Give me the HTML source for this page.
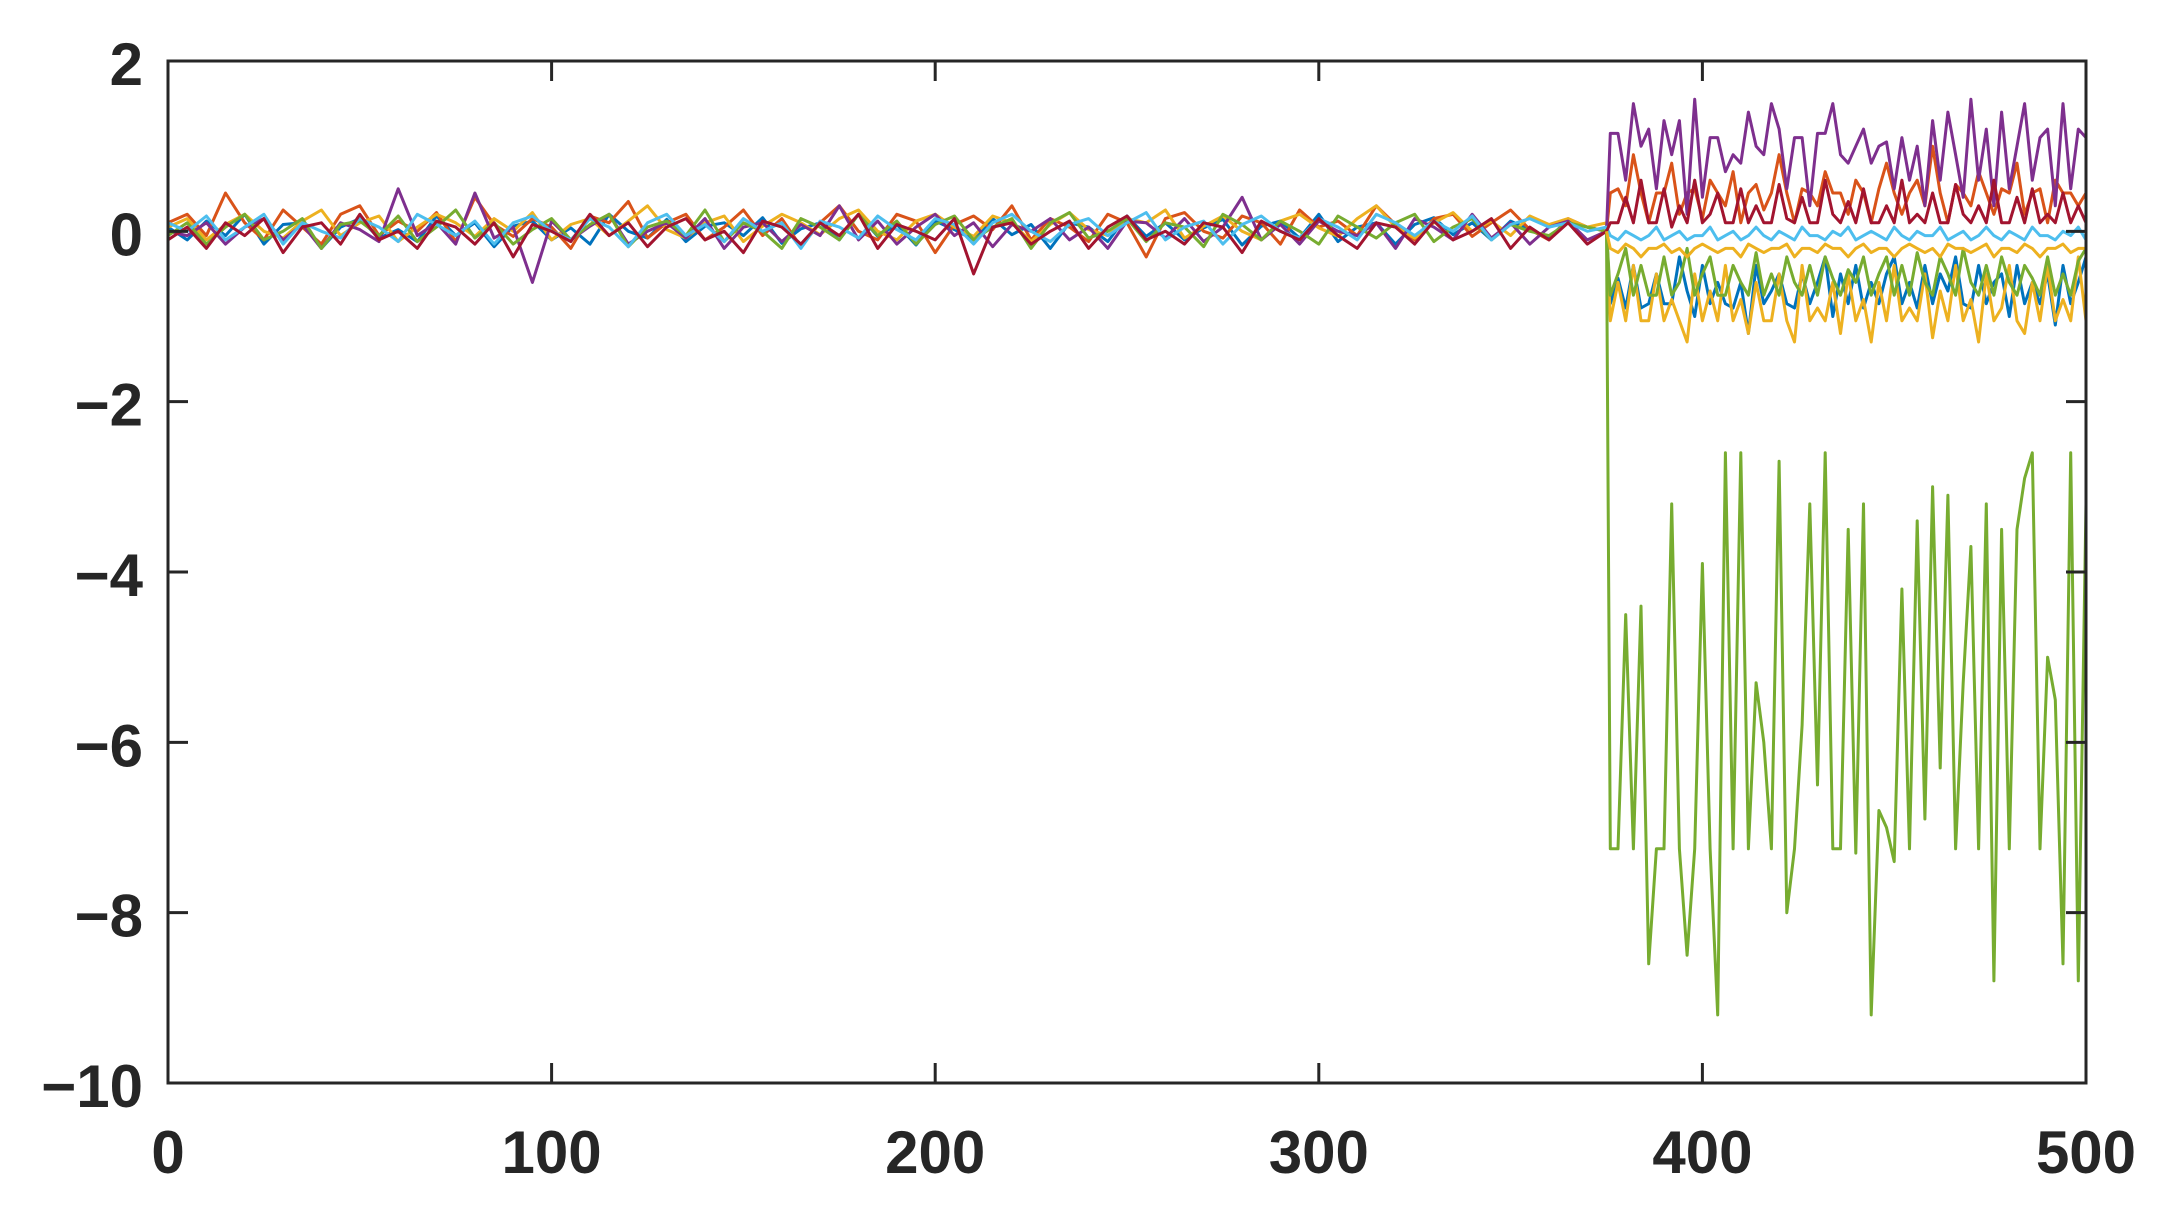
<!DOCTYPE html>
<html><head><meta charset="utf-8"><style>
html,body{margin:0;padding:0;background:#fff}
svg{display:block}
text{font-family:"Liberation Sans",Arial,sans-serif;font-weight:bold;font-size:60px;fill:#262626}
</style></head><body>
<svg id="chart" width="2170" height="1209" viewBox="0 0 2170 1209" xmlns="http://www.w3.org/2000/svg">
<g id="series"></g>
<rect x="168" y="61" width="1918" height="1022" fill="none" stroke="#262626" stroke-width="3"/>
<g id="ticks"></g>
</svg>
<script>
const xTicks=[0,100,200,300,400,500];
const yTicks=[2,0,-2,-4,-6,-8,-10];
const yTickLabels=["2","0","\u22122","\u22124","\u22126","\u22128","\u221210"];
const preBlue=[0.05,-0.1,0.12,-0.05,0.2,-0.15,0.08,0.1,-0.2,0.05,0.15,-0.08,0.02,-0.12,0.18,-0.05,0.1,-0.18,0.06,0.12,-0.1,0.04,-0.15,0.2,0.0,-0.08,0.14,-0.12,0.06,0.1,-0.05,0.16,-0.14,0.03,0.1,-0.1,0.2,-0.06,0.08,-0.16,0.12,0.02,-0.1,0.15,-0.04,0.08,-0.2,0.1,0.05,-0.12,0.18,-0.06,0.1,-0.1,0.04,0.14,-0.16,0.06,0.12,-0.08,0.2,-0.12,0.05,0.1,-0.15,0.08,0.16,-0.04,0.1,-0.1,0.12,0.02,-0.08,0.14,0.05,0.0];
const preOrange=[0.1,0.2,-0.05,0.45,0.1,-0.1,0.25,0.05,-0.15,0.2,0.3,-0.05,0.12,0.0,0.22,-0.12,0.4,0.08,-0.06,0.15,0.05,-0.2,0.18,0.1,0.35,-0.08,0.1,0.2,-0.1,0.05,0.25,-0.05,0.15,-0.18,0.1,0.3,0.0,-0.1,0.2,0.12,-0.25,0.08,0.18,0.02,0.3,-0.1,0.15,0.05,-0.12,0.2,0.1,-0.3,0.15,0.22,0.0,-0.08,0.18,0.1,-0.15,0.25,0.05,0.12,-0.05,0.3,0.08,-0.1,0.15,0.2,-0.06,0.1,0.25,0.02,-0.1,0.15,0.05,0.0];
const preYellow=[0.05,0.15,-0.1,0.08,0.2,0.0,-0.08,0.12,0.25,-0.05,0.1,0.18,-0.12,0.05,0.2,0.1,-0.06,0.15,0.0,0.22,-0.1,0.08,0.15,-0.05,0.12,0.3,0.02,-0.08,0.1,0.18,-0.12,0.06,0.2,0.1,-0.04,0.15,0.25,0.0,-0.1,0.12,0.2,0.05,-0.06,0.18,0.1,-0.12,0.08,0.22,0.02,-0.05,0.15,0.1,0.25,-0.08,0.06,0.18,0.0,-0.1,0.12,0.2,0.04,-0.06,0.15,0.3,0.05,-0.08,0.1,0.22,0.0,0.12,-0.05,0.18,0.08,0.15,0.05,0.1];
const prePurple=[0.0,-0.05,0.1,-0.15,0.05,0.15,-0.1,0.08,-0.2,0.1,0.02,-0.12,0.5,-0.05,0.1,-0.15,0.45,-0.08,0.05,-0.6,0.12,-0.1,0.06,0.2,-0.15,0.0,0.1,-0.08,0.15,-0.2,0.05,0.1,-0.12,0.08,-0.05,0.3,-0.1,0.12,-0.15,0.05,0.2,-0.05,0.1,-0.18,0.08,0.0,0.15,-0.1,0.05,-0.2,0.12,0.1,-0.08,0.15,-0.12,0.05,0.4,-0.1,0.08,-0.15,0.12,0.0,-0.05,0.1,-0.2,0.15,0.05,-0.1,0.2,-0.08,0.1,-0.15,0.05,0.12,-0.1,0.0];
const preGreen=[-0.05,0.1,-0.15,0.05,0.2,-0.1,0.0,0.15,-0.2,0.08,0.12,-0.05,0.18,-0.12,0.05,0.25,-0.08,0.1,-0.15,0.02,0.15,-0.1,0.08,0.2,-0.18,0.05,0.12,-0.05,0.25,-0.12,0.1,0.0,-0.2,0.15,0.05,-0.1,0.2,-0.05,0.12,-0.15,0.08,0.18,-0.1,0.05,0.15,-0.2,0.1,0.22,-0.08,0.0,0.15,-0.12,0.1,0.05,-0.18,0.2,0.08,-0.1,0.12,0.0,-0.15,0.18,0.05,-0.08,0.1,0.2,-0.12,0.05,0.15,-0.1,0.08,0.0,-0.05,0.1,0.05,0.0];
const preCyan=[0.1,0.0,0.18,-0.1,0.05,0.2,-0.15,0.1,0.0,-0.08,0.15,0.05,-0.12,0.2,0.08,-0.05,0.12,-0.15,0.1,0.18,0.0,-0.1,0.15,0.05,-0.18,0.1,0.2,-0.05,0.08,-0.12,0.15,0.0,0.1,-0.2,0.12,0.05,-0.08,0.18,0.02,-0.1,0.15,0.08,-0.15,0.1,0.2,0.0,-0.12,0.08,0.15,-0.05,0.1,0.22,-0.1,0.05,0.12,-0.15,0.08,0.18,0.0,-0.08,0.15,0.05,-0.1,0.2,0.1,-0.05,0.12,0.0,0.18,-0.1,0.08,0.15,0.05,0.1,0.0,0.05];
const preRed=[-0.1,0.05,-0.2,0.1,-0.05,0.15,-0.25,0.05,0.1,-0.15,0.2,-0.1,0.0,-0.2,0.12,0.05,-0.15,0.1,-0.3,0.08,0.0,-0.12,0.2,-0.05,0.1,-0.18,0.05,0.15,-0.1,0.0,-0.25,0.12,0.05,-0.15,0.1,-0.05,0.2,-0.2,0.08,0.0,-0.1,0.15,-0.5,0.05,0.1,-0.15,0.0,0.12,-0.2,0.05,0.18,-0.1,0.0,-0.15,0.1,0.05,-0.25,0.12,0.0,-0.1,0.15,-0.05,-0.2,0.1,0.05,-0.15,0.12,-0.1,0.0,0.15,-0.2,0.05,-0.1,0.1,-0.15,0.0];
const postBlue=[-0.85,-0.55,-0.9,-0.4,-0.9,-0.85,-0.5,-0.85,-0.85,-0.3,-0.7,-1.0,-0.4,-0.85,-0.6,-0.85,-0.9,-0.6,-1.2,-0.4,-0.85,-0.7,-0.5,-0.85,-0.9,-0.5,-0.85,-0.6,-0.3,-1.0,-0.5,-0.85,-0.4,-0.9,-0.6,-0.85,-0.5,-0.3,-0.85,-0.6,-0.9,-0.4,-0.85,-0.5,-0.7,-0.3,-0.85,-0.9,-0.4,-0.85,-0.6,-0.5,-1.0,-0.4,-0.85,-0.6,-0.85,-0.5,-1.1,-0.4,-0.85,-0.6,-0.3];
const postOrange=[0.45,0.5,0.3,0.9,0.45,0.1,0.45,0.45,0.8,0.2,0.45,0.5,0.15,0.6,0.45,0.3,0.7,0.1,0.45,0.55,0.25,0.45,0.9,0.45,0.1,0.5,0.45,0.3,0.7,0.45,0.45,0.2,0.6,0.45,0.1,0.5,0.8,0.45,0.2,0.45,0.6,0.3,1.0,0.45,0.1,0.55,0.45,0.3,0.7,0.45,0.2,0.5,0.45,0.8,0.2,0.45,0.5,0.1,0.6,0.45,0.45,0.3,0.45];
const postYellow=[-1.05,-0.6,-1.05,-0.4,-1.05,-1.05,-0.5,-1.05,-0.8,-1.05,-1.3,-0.5,-1.05,-0.7,-1.05,-0.4,-1.05,-0.8,-1.2,-0.6,-1.05,-1.05,-0.5,-1.05,-1.3,-0.4,-1.05,-0.9,-1.05,-0.6,-1.2,-0.5,-1.05,-0.8,-1.3,-0.6,-1.05,-0.4,-1.05,-0.9,-1.05,-0.5,-1.25,-0.7,-1.05,-0.4,-1.05,-0.8,-1.3,-0.5,-1.05,-0.9,-0.4,-1.05,-1.2,-0.6,-1.05,-0.4,-1.05,-0.8,-1.05,-0.3,-1.05];
const postPurple=[1.15,1.15,0.6,1.5,1.0,1.2,0.5,1.3,0.9,1.3,0.2,1.55,0.4,1.1,1.1,0.7,0.9,0.8,1.4,1.0,0.9,1.5,1.2,0.5,1.1,1.1,0.3,1.15,1.15,1.5,0.9,0.8,1.0,1.2,0.8,1.0,1.05,0.5,1.1,0.6,1.0,0.3,1.3,0.6,1.4,0.9,0.4,1.55,0.6,1.2,0.3,1.4,0.5,1.0,1.5,0.6,1.1,1.2,0.3,1.5,0.5,1.2,1.1];
const postGreenBig=[-7.25,-7.25,-4.5,-7.25,-4.4,-8.6,-7.25,-7.25,-3.2,-7.25,-8.5,-7.25,-3.9,-7.25,-9.2,-2.6,-7.25,-2.6,-7.25,-5.3,-6.0,-7.25,-2.7,-8.0,-7.25,-5.8,-3.2,-6.5,-2.6,-7.25,-7.25,-3.5,-7.3,-3.2,-9.2,-6.8,-7.0,-7.4,-4.2,-7.25,-3.4,-6.9,-3.0,-6.3,-3.1,-7.25,-5.3,-3.7,-7.25,-3.2,-8.8,-3.5,-7.25,-3.5,-2.9,-2.6,-7.25,-5.0,-5.5,-8.6,-2.6,-8.8,-3.2];
const postCyan=[-0.05,-0.1,0.0,-0.05,-0.1,-0.05,0.05,-0.1,-0.05,0.0,-0.1,-0.05,-0.05,0.05,-0.1,-0.05,0.0,-0.1,-0.05,0.05,-0.05,-0.1,0.0,-0.05,-0.1,0.05,-0.05,-0.05,-0.1,0.0,-0.05,0.05,-0.1,-0.05,0.0,-0.05,-0.1,0.05,-0.05,-0.1,0.0,-0.05,-0.05,0.05,-0.1,-0.05,0.0,-0.1,-0.05,0.05,-0.05,-0.1,0.0,-0.05,-0.1,0.05,-0.05,-0.05,-0.1,0.0,-0.05,0.05,-0.1];
const postRed=[0.1,0.1,0.4,0.1,0.6,0.1,0.1,0.5,0.05,0.3,0.1,0.6,0.1,0.2,0.45,0.1,0.1,0.5,0.1,0.3,0.1,0.1,0.55,0.15,0.1,0.4,0.1,0.1,0.6,0.2,0.1,0.35,0.1,0.5,0.1,0.1,0.3,0.1,0.6,0.1,0.2,0.1,0.45,0.1,0.1,0.55,0.2,0.1,0.3,0.1,0.6,0.1,0.1,0.4,0.1,0.5,0.1,0.2,0.1,0.45,0.1,0.3,0.1];
const postGreenSmall=[-0.75,-0.5,-0.2,-0.75,-0.4,-0.75,-0.75,-0.3,-0.75,-0.6,-0.2,-0.75,-0.5,-0.3,-0.75,-0.75,-0.4,-0.6,-0.75,-0.25,-0.75,-0.5,-0.75,-0.3,-0.6,-0.75,-0.4,-0.75,-0.3,-0.55,-0.75,-0.45,-0.6,-0.3,-0.75,-0.5,-0.3,-0.75,-0.4,-0.75,-0.25,-0.6,-0.75,-0.3,-0.5,-0.75,-0.2,-0.6,-0.75,-0.4,-0.75,-0.3,-0.6,-0.75,-0.4,-0.55,-0.75,-0.3,-0.75,-0.5,-0.75,-0.35,-0.2];
const postYellow2=[-0.2,-0.25,-0.15,-0.2,-0.3,-0.2,-0.2,-0.15,-0.25,-0.2,-0.3,-0.2,-0.15,-0.2,-0.25,-0.2,-0.2,-0.3,-0.15,-0.2,-0.25,-0.2,-0.2,-0.15,-0.3,-0.2,-0.2,-0.25,-0.15,-0.2,-0.2,-0.3,-0.2,-0.15,-0.25,-0.2,-0.2,-0.3,-0.2,-0.15,-0.2,-0.25,-0.2,-0.3,-0.15,-0.2,-0.2,-0.25,-0.2,-0.15,-0.3,-0.2,-0.2,-0.25,-0.15,-0.2,-0.3,-0.2,-0.2,-0.15,-0.25,-0.2,-0.2];

const X0=168,X1=2086,Y0=61,Y1=1083;
const sx=v=>X0+(v/500)*(X1-X0);
const sy=v=>Y0+((2-v)/12)*(Y1-Y0);
const NS="http://www.w3.org/2000/svg";
const sg=document.getElementById('series');
const series=[
 ['blue','#0072BD',preBlue,postBlue],
 ['orange','#D95319',preOrange,postOrange],
 ['yellow','#EDB120',preYellow,postYellow],
 ['purple','#7E2F8E',prePurple,postPurple],
 ['green','#77AC30',preGreen,postGreenBig],
 ['cyan','#4DBEEE',preCyan,postCyan],
 ['red','#A2142F',preRed,postRed],
 ['green-small','#77AC30',null,postGreenSmall],
 ['yellow-2','#EDB120',null,postYellow2]
];
series.forEach(s=>{
  const pts=[];
  if(s[2]){const n=s[2].length;s[2].forEach((v,i)=>pts.push([375*i/(n-1),v]));}
  else pts.push([375,0]);
  const m=s[3].length;
  s[3].forEach((v,i)=>pts.push([376+124*i/(m-1),v]));
  const p=document.createElementNS(NS,'polyline');
  p.setAttribute('points',pts.map(q=>sx(q[0]).toFixed(1)+','+sy(q[1]).toFixed(1)).join(' '));
  p.setAttribute('fill','none');p.setAttribute('stroke',s[1]);p.setAttribute('stroke-width','3');
  p.setAttribute('stroke-linejoin','round');
  
  
  sg.appendChild(p);
});
const tg=document.getElementById('ticks');
function ln(x1,y1,x2,y2){const l=document.createElementNS(NS,'line');l.setAttribute('x1',x1);l.setAttribute('y1',y1);l.setAttribute('x2',x2);l.setAttribute('y2',y2);l.setAttribute('stroke','#262626');l.setAttribute('stroke-width','3');


tg.appendChild(l);}
xTicks.forEach(v=>{
  const x=sx(v);ln(x,Y1,x,Y1-20);ln(x,Y0,x,Y0+20);
  const t=document.createElementNS(NS,'text');t.setAttribute('x',x);t.setAttribute('y',1173);t.setAttribute('text-anchor','middle');t.textContent=String(v);
  
  
  tg.appendChild(t);
});
yTicks.forEach((v,i)=>{
  const y=sy(v);ln(X0,y,X0+20,y);ln(X1,y,X1-20,y);
  const t=document.createElementNS(NS,'text');t.setAttribute('x',143);t.setAttribute('y',y+24);t.setAttribute('text-anchor','end');t.textContent=yTickLabels[i];
  
  
  tg.appendChild(t);
});
</script>
</body></html>
